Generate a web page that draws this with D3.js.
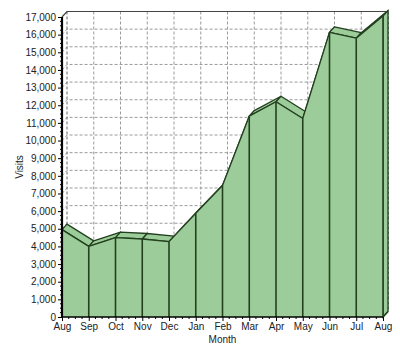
<!DOCTYPE html>
<html><head><meta charset="utf-8">
<script src="https://cdn.jsdelivr.net/npm/d3@7"></script>
<style>body{margin:0;background:#fff}svg{display:block}text{font-family:Arial,"Liberation Sans",sans-serif}</style>
</head><body><svg id="c" width="400" height="356"></svg>
<script>
const months = ["Aug","Sep","Oct","Nov","Dec","Jan","Feb","Mar","Apr","May","Jun","Jul","Aug"];
const visits = [4950, 4000, 4500, 4420, 4270, 5880, 7450, 11380, 12200, 11250, 16130, 15800, 17050];
const yTicks = d3.range(0, 17001, 1000);

const svg = d3.select("#c");
const X0 = 62, X1 = 383, Y0 = 317, Y1 = 17, DX = 5, DY = -5.5;
const x = d3.scaleLinear().domain([0, months.length - 1]).range([X0, X1]);
const y = d3.scaleLinear().domain([0, 17000]).range([Y0, Y1]);
const green = "#9ccc99", dark = "#23401f";

// back wall grid
const grid = svg.append("g").attr("stroke", "#9a9a9a").attr("stroke-dasharray", "3,2").attr("fill", "none").attr("stroke-width", 1);
yTicks.slice(1).forEach(t => {
  grid.append("path").attr("d", `M${X0},${y(t)}L${X0+DX},${y(t)+DY}H${X1+DX}`);
});
months.forEach((m, i) => {
  if (i === 0 || i === months.length - 1) return;
  grid.append("line").attr("x1", x(i)+DX).attr("x2", x(i)+DX).attr("y1", Y1+DY).attr("y2", Y0+DY);
});
svg.append("line").attr("x1", X0+DX).attr("x2", X0+DX).attr("y1", Y1+DY).attr("y2", Y0+DY)
  .attr("stroke", "#666").attr("stroke-dasharray", "3,2");
svg.append("line").attr("x1", X1+DX).attr("x2", X1+DX).attr("y1", Y1+DY).attr("y2", Y0+DY)
  .attr("stroke", "#444").attr("stroke-dasharray", "3,2").attr("stroke-width", 1.2);
svg.append("path").attr("d", `M${X0},${Y1}L${X0+DX},${Y1+DY}H${X1+DX}`)
  .attr("stroke", "#444").attr("fill", "none").attr("stroke-width", 1.2);

// top bands (drawn behind the front face)
const bands = svg.append("g");
for (let i = 0; i < visits.length - 1; i++) {
  const a = [x(i), y(visits[i])], b = [x(i+1), y(visits[i+1])];
  bands.append("path")
    .attr("d", `M${a[0]},${a[1]}L${b[0]},${b[1]}L${b[0]+DX},${b[1]+DY}L${a[0]+DX},${a[1]+DY}Z`)
    .attr("fill", green).attr("stroke", dark).attr("stroke-width", 1.3).attr("stroke-linejoin", "round");
}
// right side face
const lx = x(months.length - 1), ly = y(visits[visits.length - 1]);
svg.append("path").attr("d", `M${lx},${Y0}L${lx},${ly}L${lx+DX},${ly+DY}L${lx+DX},${Y0+DY}Z`)
  .attr("fill", green).attr("stroke", dark).attr("stroke-width", 1.3);

// front area
const area = d3.area().x((d, i) => x(i)).y0(Y0).y1(d => y(d));
svg.append("path").datum(visits).attr("d", area).attr("fill", green).attr("stroke", "none");
const line = d3.line().x((d, i) => x(i)).y(d => y(d));
svg.append("path").datum(visits).attr("d", line).attr("fill", "none").attr("stroke", dark)
  .attr("stroke-width", 1.3).attr("stroke-linejoin", "round");

// vertical month lines on front face
visits.forEach((v, i) => {
  svg.append("line").attr("x1", x(i)).attr("x2", x(i)).attr("y1", y(v)).attr("y2", Y0)
    .attr("stroke", dark).attr("stroke-width", 1.6);
});

// axes
const yAxis = svg.append("g").attr("transform", `translate(${X0},0)`)
  .call(d3.axisLeft(y).tickValues(yTicks).tickFormat(d3.format(",")).tickSize(4).tickPadding(2));
yAxis.select(".domain").attr("stroke", "#000").attr("stroke-width", 2.2).attr("d", `M0,${Y0}V${Y1}`);
yAxis.selectAll("text").attr("font-size", 10).attr("fill", "#222");
svg.append("g").selectAll("line").data(d3.range(0, 17001, 250).filter(v => v % 1000 !== 0)).join("line")
  .attr("x1", X0 - 2).attr("x2", X0).attr("y1", d => y(d)).attr("y2", d => y(d)).attr("stroke", "#000");

const xAxis = svg.append("g").attr("transform", `translate(0,${Y0})`)
  .call(d3.axisBottom(x).tickValues(d3.range(months.length)).tickFormat(i => months[i]).tickSize(4).tickPadding(2));
xAxis.select(".domain").attr("stroke", "#000").attr("stroke-width", 1.6).attr("d", `M${X0},0H${X1}`);
xAxis.selectAll("text").attr("font-size", 10).attr("fill", "#222");
svg.append("g").selectAll("line").data(d3.range(0, months.length - 1).flatMap(i => [0.25, 0.5, 0.75].map(f => i + f))).join("line")
  .attr("x1", d => x(d)).attr("x2", d => x(d)).attr("y1", Y0).attr("y2", Y0 + 2).attr("stroke", "#000");
svg.append("line").attr("x1", X1).attr("y1", Y0).attr("x2", X1+DX).attr("y2", Y0+DY).attr("stroke", dark).attr("stroke-width", 1.2);

// titles
svg.append("text").attr("x", (X0 + X1) / 2).attr("y", 343).attr("text-anchor", "middle")
  .attr("font-size", 10).attr("fill", "#222").text("Month");
svg.append("text").attr("transform", `translate(23,${(Y0 + Y1) / 2}) rotate(-90)`).attr("text-anchor", "middle")
  .attr("font-size", 10).attr("fill", "#222").text("Visits");
</script></body></html>
